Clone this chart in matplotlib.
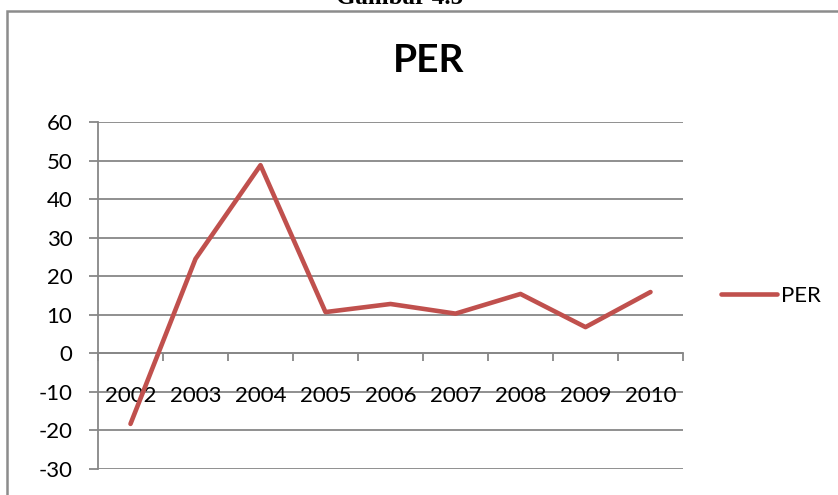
import matplotlib
matplotlib.use("Agg")
import matplotlib.pyplot as plt
from matplotlib.patches import Rectangle

years = ["2002", "2003", "2004", "2005", "2006", "2007", "2008", "2009", "2010"]
per = [-18.3, 24.5, 48.8, 10.7, 12.8, 10.3, 15.4, 6.8, 15.9]
yticks = [-30, -20, -10, 0, 10, 20, 30, 40, 50, 60]

W, H = 838, 495
fig = plt.figure(figsize=(W / 100, H / 100), dpi=100)
plt.rcParams['font.family'] = ['Lato', 'DejaVu Sans']

grey = '#878787'
red = '#C0504D'

# outer chart border
fig.patches.append(Rectangle((7 / W, -0.1), 1.2, 1 - 11 / H + 0.1, transform=fig.transFigure,
                             fill=False, edgecolor='#8c8c8c', linewidth=1.8))
# cut-off caption at the top (as in the reference)
fig.text(400 / W, 1 - 4 / H, "Gambar 4.5", family=['Liberation Serif'], fontsize=18,
         fontweight='bold', ha='center', va='baseline', color='black')

ax = fig.add_axes([98 / W, 1 - 469 / H, (683 - 98) / W, (469 - 122) / H])
x = list(range(len(years)))
ax.plot(x, per, color=red, linewidth=3.3, solid_capstyle='round', solid_joinstyle='round',
        label='PER', zorder=3)

ax.set_xlim(-0.5, len(years) - 0.5)
ax.set_ylim(-30, 60)
ax.set_yticks(yticks)
ax.set_yticklabels([str(v) for v in yticks])
ax.yaxis.grid(True, color=grey, linewidth=1.3)
ax.set_axisbelow(True)

for s in ['top', 'right']:
    ax.spines[s].set_visible(False)
ax.spines['left'].set_color(grey)
ax.spines['left'].set_linewidth(1.3)
ax.spines['bottom'].set_position(('data', 0))
ax.spines['bottom'].set_color(grey)
ax.spines['bottom'].set_linewidth(1.3)

ax.set_xticks([i - 0.5 for i in range(len(years) + 1)])
ax.set_xticklabels([])
ax.tick_params(axis='x', direction='out', length=6, color=grey, width=1.3)
ax.tick_params(axis='y', direction='out', length=6.5, color=grey, width=1.3,
               labelsize=16, pad=12)

for i, yr in enumerate(years):
    ax.text(i, -11, yr, ha='center', va='center', fontsize=16, zorder=2)

fig.text(429 / W, 1 - 60 / H, "PER", ha='center', va='center', fontsize=28, fontweight='bold')

leg = fig.legend(loc='center left', bbox_to_anchor=(721 / W, 1 - 296 / H), frameon=False,
                 fontsize=16, handlelength=2.5, handletextpad=0.2, borderpad=0, borderaxespad=0)

fig.savefig("out.png", dpi=100)
